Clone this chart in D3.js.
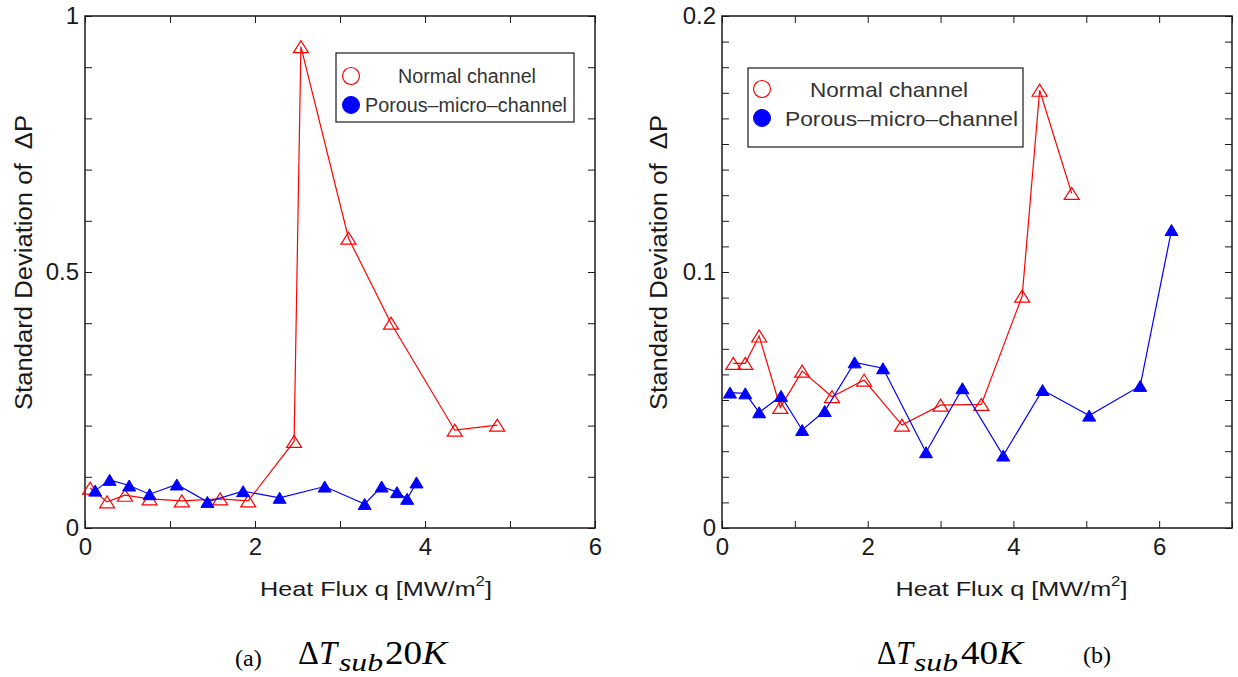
<!DOCTYPE html>
<html>
<head>
<meta charset="utf-8">
<script src="https://cdn.jsdelivr.net/npm/d3@7"></script>
<style>
  html, body { margin: 0; padding: 0; background: #fff; }
  svg { display: block; }
</style>
</head>
<body>
<svg id="chart" width="1238" height="677"></svg>
<script>
// ---------------- DATA ----------------
// (a) ΔT_sub 20K
const leftNormalQ   = [0.06, 0.26, 0.47, 0.76, 1.14, 1.59, 1.92, 2.46, 2.54, 3.10, 3.60, 4.35, 4.85];
const leftNormalSd  = [0.078, 0.051, 0.064, 0.057, 0.053, 0.057, 0.053, 0.169, 0.940, 0.566, 0.400, 0.191, 0.201];
const leftPorousQ   = [0.12, 0.29, 0.52, 0.76, 1.08, 1.44, 1.86, 2.29, 2.82, 3.29, 3.49, 3.67, 3.79, 3.90];
const leftPorousSd  = [0.073, 0.094, 0.083, 0.066, 0.085, 0.051, 0.072, 0.059, 0.081, 0.047, 0.081, 0.070, 0.057, 0.089];
// (b) ΔT_sub 40K
const rightNormalQ  = [0.155, 0.32, 0.51, 0.80, 1.10, 1.51, 1.95, 2.47, 3.00, 3.56, 4.12, 4.36, 4.80];
const rightNormalSd = [0.0643, 0.0643, 0.0750, 0.0471, 0.0613, 0.0513, 0.0578, 0.0402, 0.0480, 0.0483, 0.0906, 0.1710, 0.1307];
const rightPorousQ  = [0.11, 0.32, 0.51, 0.81, 1.10, 1.41, 1.82, 2.21, 2.80, 3.30, 3.86, 4.40, 5.04, 5.74, 6.17];
const rightPorousSd = [0.0529, 0.0526, 0.0452, 0.0516, 0.0383, 0.0457, 0.0647, 0.0624, 0.0296, 0.0546, 0.0283, 0.0539, 0.0439, 0.0555, 0.1164];

// ticks
const leftXDomain = [0, 6];
const leftYDomain = [0, 1];
const leftXTickValues = [0, 1, 2, 3, 4, 5, 6];
const leftXTickLabels = [0, 2, 4, 6];
const leftYTickValues = [0, 0.1, 0.2, 0.3, 0.4, 0.5, 0.6, 0.7, 0.8, 0.9, 1.0];
const leftYTickLabels = [0, 0.5, 1];

const rightXDomain = [0, 7];
const rightYDomain = [0, 0.2];
const rightXTickValues = [0, 1, 2, 3, 4, 5, 6, 7];
const rightXTickLabels = [0, 2, 4, 6];
const rightYTickValues = [0, 0.01, 0.02, 0.03, 0.04, 0.05, 0.06, 0.07, 0.08, 0.09, 0.10,
                          0.11, 0.12, 0.13, 0.14, 0.15, 0.16, 0.17, 0.18, 0.19, 0.20];
const rightYTickLabels = [0, 0.1, 0.2];

const seriesNames = ["Normal channel", "Porous\u2013micro\u2013channel"];
const xLabelText = "Heat Flux q [MW/m";
const yLabelText = "Standard Deviation of \u00a0\u0394P";

// ---------------- DRAW ----------------
const svg = d3.select("#chart");
const SANS = "'Liberation Sans', Arial, sans-serif";
const SERIF = "'Liberation Serif', 'Times New Roman', serif";
const RED = "#ff0000", BLUE = "#0000ff", INK = "#1a1a1a";

const panels = [
  {
    box: {x0: 85, x1: 595, y0: 16, y1: 528},
    xDomain: leftXDomain, yDomain: leftYDomain,
    xTicks: leftXTickValues, xLabels: leftXTickLabels,
    yTicks: leftYTickValues, yLabels: leftYTickLabels,
    normal: {q: leftNormalQ, sd: leftNormalSd},
    porous: {q: leftPorousQ, sd: leftPorousSd},
    legend: {x0: 336, x1: 574, y0: 53, y1: 122, mx: 351, ty: [76, 105],
             tx: [398, 365], tl: [138, 202], fs: 20},
    xLabel: {cx: 376, y: 596},
    yLabel: {x: 32, cy: 262.5}
  },
  {
    box: {x0: 722, x1: 1232, y0: 16, y1: 528},
    xDomain: rightXDomain, yDomain: rightYDomain,
    xTicks: rightXTickValues, xLabels: rightXTickLabels,
    yTicks: rightYTickValues, yLabels: rightYTickLabels,
    normal: {q: rightNormalQ, sd: rightNormalSd},
    porous: {q: rightPorousQ, sd: rightPorousSd},
    legend: {x0: 748, x1: 1023, y0: 68, y1: 147, mx: 762, ty: [89, 118],
             tx: [810, 785], tl: [158, 233], fs: 21},
    xLabel: {cx: 1011.5, y: 596},
    yLabel: {x: 667, cy: 262.5}
  }
];

const near = (arr, d) => arr.some(v => Math.abs(v - d) < 1e-9);
const fmt = d => (Math.abs(d - Math.round(d)) < 1e-9 ? String(Math.round(d)) : String(+d.toFixed(2)));

function triPath(cx, cy, w, h) {
  return `M${cx - w / 2},${cy + h / 2}L${cx + w / 2},${cy + h / 2}L${cx},${cy - h / 2}Z`;
}

panels.forEach(p => {
  const x = d3.scaleLinear().domain(p.xDomain).range([p.box.x0, p.box.x1]);
  const y = d3.scaleLinear().domain(p.yDomain).range([p.box.y1, p.box.y0]);
  const g = svg.append("g");

  // axes
  const styleAxis = sel => {
    sel.select(".domain").remove();
    sel.selectAll(".tick line").attr("stroke", INK).attr("stroke-width", 1);
    sel.selectAll(".tick text").attr("fill", INK)
      .style("font-family", SANS).style("font-size", "24px");
  };
  g.append("g").attr("transform", `translate(0,${p.box.y1})`)
    .call(d3.axisBottom(x).tickValues(p.xTicks).tickSizeInner(-7).tickSizeOuter(0).tickPadding(10)
      .tickFormat(d => near(p.xLabels, d) ? fmt(d) : ""))
    .call(styleAxis);
  g.append("g").attr("transform", `translate(0,${p.box.y0})`)
    .call(d3.axisTop(x).tickValues(p.xTicks).tickSizeInner(-7).tickSizeOuter(0).tickFormat(""))
    .call(styleAxis);
  g.append("g").attr("transform", `translate(${p.box.x0},0)`)
    .call(d3.axisLeft(y).tickValues(p.yTicks).tickSizeInner(-7).tickSizeOuter(0).tickPadding(6)
      .tickFormat(d => near(p.yLabels, d) ? fmt(d) : ""))
    .call(styleAxis);
  g.append("g").attr("transform", `translate(${p.box.x1},0)`)
    .call(d3.axisRight(y).tickValues(p.yTicks).tickSizeInner(-7).tickSizeOuter(0).tickFormat(""))
    .call(styleAxis);

  g.append("rect")
    .attr("x", p.box.x0).attr("y", p.box.y0)
    .attr("width", p.box.x1 - p.box.x0).attr("height", p.box.y1 - p.box.y0)
    .attr("fill", "none").attr("stroke", INK).attr("stroke-width", 1.5);

  // series
  const line = d3.line().x(d => x(d[0])).y(d => y(d[1]));
  const normalPts = p.normal.q.map((q, i) => [q, p.normal.sd[i]]);
  const porousPts = p.porous.q.map((q, i) => [q, p.porous.sd[i]]);

  g.append("path").datum(normalPts).attr("d", line)
    .attr("fill", "none").attr("stroke", RED).attr("stroke-width", 1.2);
  g.selectAll(".tn").data(normalPts).join("path")
    .attr("d", d => triPath(x(d[0]), y(d[1]), 15, 12))
    .attr("fill", "none").attr("stroke", RED).attr("stroke-width", 1.2);

  g.append("path").datum(porousPts).attr("d", line)
    .attr("fill", "none").attr("stroke", BLUE).attr("stroke-width", 1.2);
  g.selectAll(".tp").data(porousPts).join("path")
    .attr("d", d => triPath(x(d[0]), y(d[1]), 13, 11))
    .attr("fill", BLUE).attr("stroke", BLUE).attr("stroke-width", 1);

  // legend
  const L = p.legend;
  g.append("rect").attr("x", L.x0).attr("y", L.y0)
    .attr("width", L.x1 - L.x0).attr("height", L.y1 - L.y0)
    .attr("fill", "#fff").attr("stroke", INK).attr("stroke-width", 1.2);
  g.append("circle").attr("cx", L.mx).attr("cy", L.ty[0]).attr("r", 8.5)
    .attr("fill", "none").attr("stroke", RED).attr("stroke-width", 1.2);
  g.append("circle").attr("cx", L.mx).attr("cy", L.ty[1]).attr("r", 8.5)
    .attr("fill", BLUE).attr("stroke", BLUE);
  seriesNames.forEach((name, i) => {
    g.append("text").attr("x", L.tx[i]).attr("y", L.ty[i]).attr("dy", "0.36em")
      .attr("textLength", L.tl[i]).attr("lengthAdjust", "spacingAndGlyphs")
      .style("font-family", SANS).style("font-size", L.fs + "px").attr("fill", "#333")
      .text(name);
  });

  // x label
  const xl = g.append("text").attr("x", p.xLabel.cx).attr("y", p.xLabel.y)
    .attr("text-anchor", "middle").attr("textLength", 232).attr("lengthAdjust", "spacingAndGlyphs")
    .style("font-family", SANS).style("font-size", "21px").attr("fill", INK);
  xl.append("tspan").text(xLabelText);
  xl.append("tspan").attr("dy", -10).style("font-size", "14px").text("2");
  xl.append("tspan").attr("dy", 10).text("]");

  // y label
  g.append("text")
    .attr("transform", `translate(${p.yLabel.x},${p.yLabel.cy}) rotate(-90)`)
    .attr("text-anchor", "middle").attr("textLength", 295).attr("lengthAdjust", "spacingAndGlyphs")
    .style("font-family", SANS).style("font-size", "23px").attr("fill", INK)
    .text(yLabelText);
});

// captions
const captions = [
  {tag: "(a)", tagX: 235, tagY: 666, dX: 298, dW: 39, subX: 339, num: "20", numX: 385},
  {tag: "(b)", tagX: 1083, tagY: 663, dX: 877, dW: 36, subX: 914, num: "40", numX: 961}
];
captions.forEach(c => {
  svg.append("text").attr("x", c.tagX).attr("y", c.tagY)
    .style("font-family", SERIF).style("font-size", "24px").attr("fill", "#000").text(c.tag);
  const t = svg.append("text").attr("x", c.dX).attr("y", 664)
    .attr("textLength", c.dW).attr("lengthAdjust", "spacingAndGlyphs")
    .style("font-family", SERIF).style("font-size", "33px").attr("fill", "#000");
  t.append("tspan").text("\u0394");
  t.append("tspan").style("font-style", "italic").text("T");
  svg.append("text").attr("x", c.subX).attr("y", 671)
    .attr("textLength", 44).attr("lengthAdjust", "spacingAndGlyphs")
    .style("font-family", SERIF).style("font-size", "26px").style("font-style", "italic")
    .attr("fill", "#000").text("sub");
  const n = svg.append("text").attr("x", c.numX).attr("y", 664)
    .attr("textLength", 62).attr("lengthAdjust", "spacingAndGlyphs")
    .style("font-family", SERIF).style("font-size", "33px").attr("fill", "#000");
  n.append("tspan").text(c.num);
  n.append("tspan").style("font-style", "italic").text("K");
});
</script>
</body>
</html>
